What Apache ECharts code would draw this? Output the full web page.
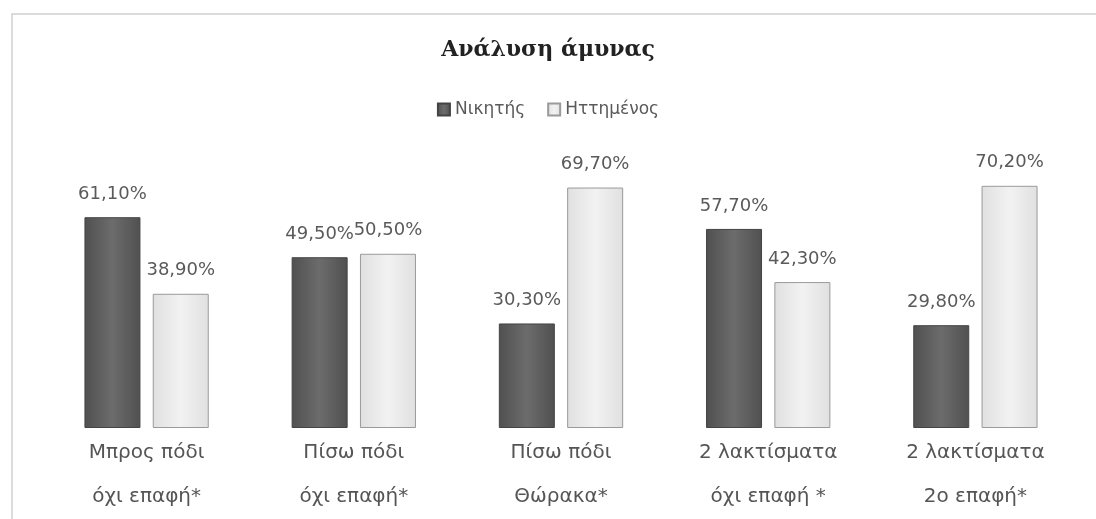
<!DOCTYPE html>
<html><head><meta charset="utf-8">
<script src="https://cdn.jsdelivr.net/npm/echarts@6/dist/echarts.min.js"></script>
<style>html,body{margin:0;padding:0;background:#fff}#c{width:1096px;height:519px}</style>
</head><body><div id="c"></div>
<script>
const categories = ['Μπρος πόδι\nόχι επαφή*', 'Πίσω πόδι\nόχι επαφή*', 'Πίσω πόδι\nΘώρακα*', '2 λακτίσματα\nόχι επαφή *', '2 λακτίσματα\n2ο επαφή*'];
const seriesNames = ['Νικητής', 'Ηττημένος'];
const winner = [61.1, 49.5, 30.3, 57.7, 29.8];
const loser = [38.9, 50.5, 69.7, 42.3, 70.2];

const chart = echarts.init(document.getElementById('c'));
const fmt = p => p.value.toFixed(2).replace('.', ',') + '%';
const labelStyle = {show: true, position: 'top', distance: 14, color: '#5a5a5a', fontSize: 18, fontFamily: 'DejaVu Sans', formatter: fmt};
chart.setOption({
  animation: false,
  graphic: [{type: 'polyline', shape: {points: [[12, 519], [12, 14], [1096, 14]]}, style: {stroke: '#cfcfcf', lineWidth: 1.5, fill: null}}],
  title: {text: 'Ανάλυση άμυνας', left: 'center', top: 34, textStyle: {fontFamily: 'DejaVu Serif', fontWeight: 'bold', fontSize: 22, color: '#222'}},
  legend: {top: 96, left: 'center', icon: 'rect', itemWidth: 12, itemHeight: 12, itemGap: 22, textStyle: {fontFamily: 'DejaVu Sans', fontSize: 17, color: '#5a5a5a'}, data: seriesNames},
  grid: {left: 43, right: 17, top: 152, bottom: 91},
  xAxis: {type: 'category', data: categories, axisLine: {show: false}, axisTick: {show: false},
    axisLabel: {margin: 3, fontSize: 20, lineHeight: 44, color: '#555', fontFamily: 'DejaVu Sans'}},
  yAxis: {type: 'value', min: 0, max: 80, show: false, splitLine: {show: false}},
  series: [
    {name: seriesNames[0], type: 'bar', data: winner, barWidth: 56, barGap: '22%',
      itemStyle: {color: new echarts.graphic.LinearGradient(0, 0, 1, 0, [{offset: 0, color: '#505050'}, {offset: 0.5, color: '#6c6c6c'}, {offset: 1, color: '#505050'}]), borderColor: '#444', borderWidth: 1},
      label: labelStyle},
    {name: seriesNames[1], type: 'bar', data: loser, barWidth: 56,
      itemStyle: {color: new echarts.graphic.LinearGradient(0, 0, 1, 0, [{offset: 0, color: '#e0e0e0'}, {offset: 0.5, color: '#f2f2f2'}, {offset: 1, color: '#e0e0e0'}]), borderColor: '#9a9a9a', borderWidth: 1},
      label: labelStyle}
  ]
});
</script></body></html>
